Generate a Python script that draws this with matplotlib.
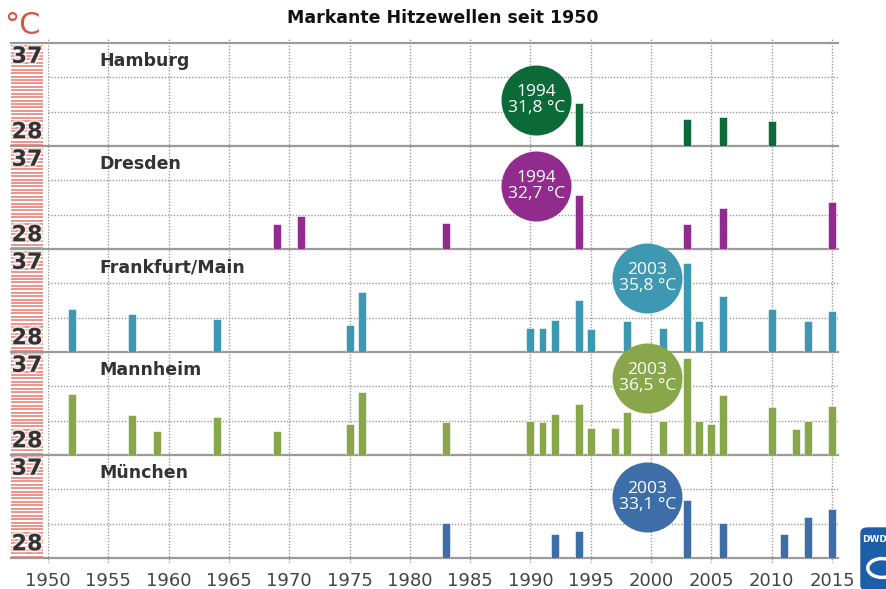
import numpy as np
import matplotlib
matplotlib.use("Agg")
import matplotlib.pyplot as plt
from matplotlib.lines import Line2D
from matplotlib.patches import FancyBboxPatch, Circle
from matplotlib.transforms import blended_transform_factory
import matplotlib.patheffects as pe

# ── data ──────────────────────────────────────────────────────────────────────
cities = ["Hamburg", "Dresden", "Frankfurt/Main", "Mannheim", "München"]
colors = ["#0b6a38", "#922b8e", "#3f98b2", "#88a74b", "#3e6ea8"]

years_hamburg = [1994, 2003, 2006, 2010]
temps_hamburg = [31.8, 30.4, 30.5, 30.2]

years_dresden = [1969, 1971, 1983, 1994, 2003, 2006, 2015]
temps_dresden = [30.2, 30.9, 30.3, 32.7, 30.2, 31.6, 32.1]

years_frankfurt = [1952, 1957, 1964, 1975, 1976, 1990, 1991, 1992, 1994,
                   1995, 1998, 2001, 2003, 2004, 2006, 2010, 2013, 2015]
temps_frankfurt = [31.8, 31.3, 30.9, 30.4, 33.2, 30.1, 30.1, 30.8, 32.5,
                   30.0, 30.7, 30.1, 35.8, 30.7, 32.9, 31.8, 30.7, 31.6]

years_mannheim = [1952, 1957, 1959, 1964, 1969, 1975, 1976, 1983, 1990, 1991,
                  1992, 1994, 1995, 1997, 1998, 2001, 2003, 2004, 2005, 2006,
                  2010, 2012, 2013, 2015]
temps_mannheim = [33.3, 31.5, 30.1, 31.3, 30.1, 30.7, 33.5, 30.9, 31.0, 30.9,
                  31.6, 32.5, 30.4, 30.4, 31.8, 31.0, 36.5, 31.0, 30.7, 33.2,
                  32.2, 30.3, 31.0, 32.3]

years_muenchen = [1983, 1992, 1994, 2003, 2006, 2011, 2013, 2015]
temps_muenchen = [31.1, 30.1, 30.4, 33.1, 31.1, 30.1, 31.6, 32.3]

# record marker per city: year, label temp
record_year = [1994, 1994, 2003, 2003, 2003]
record_temp = ["31,8", "32,7", "35,8", "36,5", "33,1"]
# bubble position (year, °C)
bubble_x = [1990.5, 1990.5, 1999.7, 1999.7, 1999.7]
bubble_y = [32.0, 33.5, 34.5, 34.7, 33.3]

series = [(years_hamburg, temps_hamburg), (years_dresden, temps_dresden),
          (years_frankfurt, temps_frankfurt), (years_mannheim, temps_mannheim),
          (years_muenchen, temps_muenchen)]

T_MIN, T_MAX = 28, 37
xticks = list(range(1950, 2016, 5))

# ── layout (pixel helpers) ────────────────────────────────────────────────────
W, H = 887, 589
def fx(px): return px / W
def fy(py): return 1 - py / H

X0, X1 = 48, 838
TOP, PH = 43, 103
GRID = "#9a9a9a"
TXT = "#333333"

fig = plt.figure(figsize=(W / 100, H / 100), dpi=100)

# background with the vertical dotted grid
bg = fig.add_axes([fx(X0), fy(563), fx(X1) - fx(X0), (563 - 38) / H], zorder=0)
bg.set_xlim(1950, 2015.5)
bg.set_ylim(0, 1)
bg.axis("off")
for x in xticks:
    bg.axvline(x, color=GRID, ls=(0, (1, 1.2)), lw=1.0)

# red thermometer strip
strip = fig.add_axes([fx(11), fy(TOP + 5 * PH), fx(43) - fx(11), 5 * PH / H], zorder=0)
strip.set_facecolor("#fde2de")
strip.set_xlim(0, 1)
strip.set_ylim(0, 5 * PH)
for y in np.arange(1.2, 5 * PH, 3.43):
    strip.axhline(y, color="#e8766b", lw=1.1)
strip.axis("off")

# panel separators
for i in range(6):
    y = fy(TOP + i * PH)
    fig.add_artist(Line2D([fx(11), fx(X1)], [y, y], transform=fig.transFigure,
                          color=GRID, lw=1.6, zorder=1))

for i, (city, col) in enumerate(zip(cities, colors)):
    ax = fig.add_axes([fx(X0), fy(TOP + (i + 1) * PH), fx(X1) - fx(X0), PH / H], zorder=2)
    ax.patch.set_alpha(0)
    yrs, tmp = series[i]
    ax.bar(yrs, np.subtract(tmp, T_MIN), bottom=T_MIN, width=0.66, color=col,
           edgecolor="#ffffff", linewidth=0.4, zorder=3)
    for h in (31, 34):
        ax.axhline(h, color=GRID, ls=(0, (1, 1.2)), lw=1.0, zorder=0)
    ax.set_xlim(1950, 2015.5)
    ax.set_ylim(T_MIN, T_MAX)
    for s in ax.spines.values():
        s.set_visible(False)
    ax.set_yticks([])
    if i < 4:
        ax.set_xticks([])
    else:
        ax.set_xticks(xticks)
        ax.tick_params(axis="x", length=0, pad=10, labelsize=13, labelcolor="#444444")

    ax.text(1954.3, 35.4, city, fontsize=12.5, fontweight="bold", color=TXT,
            ha="left", va="center")

    # bubble with record
    ax.scatter([bubble_x[i]], [bubble_y[i]], s=2540, color=col, zorder=6,
               clip_on=False, linewidths=0)
    ax.text(bubble_x[i], bubble_y[i], f"{record_year[i]}\n{record_temp[i]} °C",
            ha="center", va="center", color="white", fontsize=12.5,
            family="Open Sans", linespacing=1.0, zorder=7, clip_on=False)

    # scale labels on the strip
    tr = blended_transform_factory(fig.transFigure, ax.transData)
    halo = [pe.withStroke(linewidth=3, foreground="white", alpha=0.6)]
    ax.text(fx(27), 35.8, "37", transform=tr, ha="center", va="center",
            fontsize=16, fontweight="bold", color=TXT, path_effects=halo)
    ax.text(fx(27), 29.2, "28", transform=tr, ha="center", va="center",
            fontsize=16, fontweight="bold", color=TXT, path_effects=halo)

fig.text(fx(22), fy(25), "°C", color="#d4574b", fontsize=22,
         ha="center", va="center")
fig.text(fx(443), fy(18), "Markante Hitzewellen seit 1950", fontsize=12.5,
         fontweight="bold", color="#111111", ha="center", va="center")

# DWD logo (cut at the right edge)
logo = FancyBboxPatch((fx(861), fy(590)), fx(40), 62 / H,
                      boxstyle="round,pad=0,rounding_size=0.008",
                      transform=fig.transFigure, facecolor="#1d5ea8",
                      edgecolor="#1d5ea8", zorder=3)
fig.add_artist(logo)
fig.text(fx(862), fy(540), "DWD", color="white", fontsize=6.5, fontweight="bold",
         ha="left", va="center", zorder=4)
fig.add_artist(Circle((fx(882), fy(568)), 0.016, transform=fig.transFigure,
                      facecolor="none", edgecolor="white", lw=2.5, zorder=4))

fig.savefig("out.png", dpi=100)
